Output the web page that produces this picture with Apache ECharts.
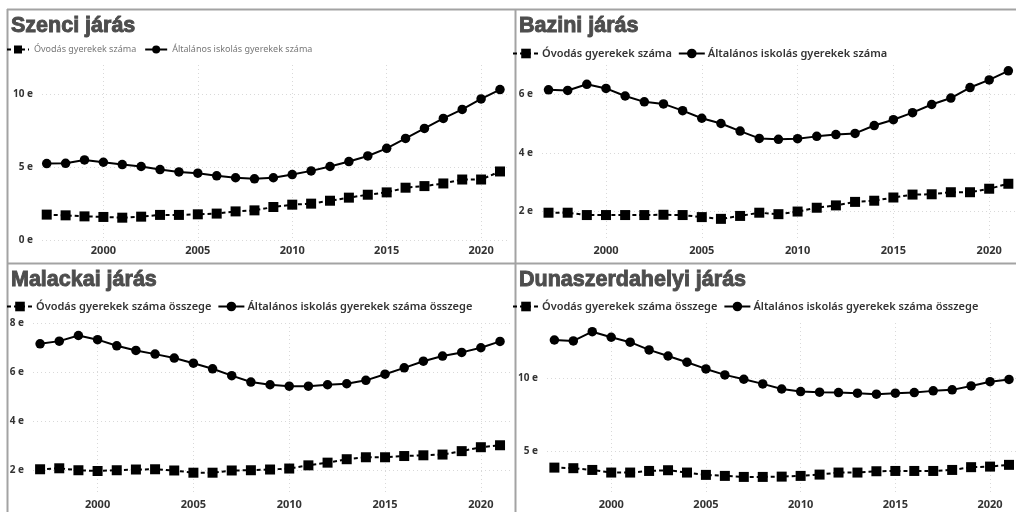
<!DOCTYPE html>
<html>
<head>
<meta charset="utf-8">
<script src="https://cdn.jsdelivr.net/npm/echarts@6/dist/echarts.min.js"></script>
<style>
  html, body { margin: 0; padding: 0; background: #fff; }
  #main { width: 1016px; height: 512px; }
</style>
</head>
<body>
<div id="main"></div>
<script>
  var years = [1997, 1998, 1999, 2000, 2001, 2002, 2003, 2004, 2005, 2006, 2007, 2008, 2009,
               2010, 2011, 2012, 2013, 2014, 2015, 2016, 2017, 2018, 2019, 2020, 2021];

  // ezer fő (e = ezer)
  var szenciOvoda = [1.77, 1.72, 1.65, 1.61, 1.56, 1.63, 1.75, 1.75, 1.79, 1.84, 1.99, 2.06, 2.29,
                     2.45, 2.52, 2.72, 2.93, 3.13, 3.29, 3.61, 3.72, 3.90, 4.17, 4.17, 4.72];
  var szenciIskola = [5.26, 5.28, 5.51, 5.35, 5.19, 5.06, 4.85, 4.69, 4.60, 4.42, 4.29, 4.22, 4.29,
                      4.51, 4.76, 5.06, 5.40, 5.78, 6.30, 6.98, 7.66, 8.35, 8.96, 9.68, 10.32];

  var baziniOvoda = [1.95, 1.95, 1.87, 1.87, 1.87, 1.87, 1.88, 1.87, 1.80, 1.74, 1.84, 1.95, 1.90,
                     1.99, 2.12, 2.20, 2.32, 2.36, 2.47, 2.57, 2.58, 2.65, 2.65, 2.77, 2.94];
  var baziniIskola = [6.15, 6.13, 6.34, 6.20, 5.94, 5.74, 5.67, 5.44, 5.18, 5.00, 4.74, 4.49, 4.46,
                      4.48, 4.56, 4.62, 4.66, 4.93, 5.13, 5.37, 5.65, 5.87, 6.23, 6.49, 6.80];

  var malackaiOvoda = [2.03, 2.07, 1.99, 1.96, 1.99, 2.02, 2.03, 1.98, 1.89, 1.89, 1.98, 1.99, 2.02,
                       2.06, 2.19, 2.30, 2.44, 2.52, 2.52, 2.57, 2.60, 2.63, 2.77, 2.93, 3.01];
  var malackaiIskola = [7.15, 7.26, 7.49, 7.32, 7.07, 6.88, 6.73, 6.57, 6.36, 6.13, 5.85, 5.59, 5.48,
                        5.42, 5.42, 5.48, 5.52, 5.66, 5.91, 6.17, 6.44, 6.65, 6.80, 6.99, 7.25];

  var dunaOvoda = [3.85, 3.81, 3.69, 3.51, 3.51, 3.62, 3.67, 3.51, 3.35, 3.28, 3.21, 3.21, 3.23,
                   3.28, 3.37, 3.51, 3.51, 3.60, 3.62, 3.62, 3.62, 3.69, 3.88, 3.92, 4.04];
  var dunaIskola = [12.63, 12.57, 13.20, 12.82, 12.48, 11.95, 11.53, 11.10, 10.64, 10.23, 9.93, 9.61, 9.26,
                    9.08, 9.04, 9.01, 8.97, 8.90, 8.97, 9.01, 9.13, 9.20, 9.47, 9.76, 9.92];

  var panelTitles = ['Szenci járás', 'Bazini járás', 'Malackai járás', 'Dunaszerdahelyi járás'];
  var ovodaNames = ['Óvodás gyerekek száma', 'Óvodás gyerekek száma',
                    'Óvodás gyerekek száma összege', 'Óvodás gyerekek száma összege'];
  var iskolaNames = ['Általános iskolás gyerekek száma', 'Általános iskolás gyerekek száma',
                     'Általános iskolás gyerekek száma összege', 'Általános iskolás gyerekek száma összege'];

  var panels = [
    { ovoda: szenciOvoda, iskola: szenciIskola, grid: { left: 42, right: 506, top: 65, height: 175.5 },
      x: [1996.75, 2021.53], y: { min: 0, max: 12, interval: 5 }, legend: { left: 6, top: 45 }, title: { left: 11, top: 15 } },
    { ovoda: baziniOvoda, iskola: baziniIskola, grid: { left: 542, right: 0, top: 65, height: 175.5 },
      x: [1996.66, 2021.4], y: { min: 1, max: 7, splitNumber: 3 }, legend: { left: 512, top: 48 }, title: { left: 519, top: 15 } },
    { ovoda: malackaiOvoda, iskola: malackaiIskola, grid: { left: 33, right: 506, top: 323, height: 171.5 },
      x: [1996.63, 2021.52], y: { min: 1, max: 8, splitNumber: 3 }, legend: { left: 6, top: 301 }, title: { left: 11, top: 269 } },
    { ovoda: dunaOvoda, iskola: dunaIskola, grid: { left: 547, right: 0, top: 323, height: 171.5 },
      x: [1996.61, 2021.37], y: { min: 2, max: 13.8, splitNumber: 2 }, legend: { left: 512, top: 301 }, title: { left: 519, top: 269 } }
  ];

  function pairs(vals) {
    return years.map(function (y, i) { return [y, vals[i]]; });
  }

  var font = 'Noto Sans, sans-serif';
  var dotted = { color: '#d9d9d9', type: [1, 3], width: 1 };

  var option = {
    animation: false,
    backgroundColor: '#fff',
    title: [], legend: [], grid: [], xAxis: [], yAxis: [], series: [],
    graphic: [
      { type: 'line', shape: { x1: 7, y1: 9.5, x2: 1016, y2: 9.5 }, style: { stroke: '#a3a3a3', lineWidth: 2 } },
      { type: 'line', shape: { x1: 7.5, y1: 9, x2: 7.5, y2: 512 }, style: { stroke: '#a3a3a3', lineWidth: 2 } },
      { type: 'line', shape: { x1: 515.5, y1: 9, x2: 515.5, y2: 512 }, style: { stroke: '#a3a3a3', lineWidth: 2 } },
      { type: 'line', shape: { x1: 7, y1: 263.5, x2: 1016, y2: 263.5 }, style: { stroke: '#a3a3a3', lineWidth: 2 } }
    ]
  };

  panels.forEach(function (p, i) {
    option.title.push({
      text: panelTitles[i], left: p.title.left, top: p.title.top, padding: 0,
      textStyle: { fontFamily: 'Liberation Sans, Arial, sans-serif', fontSize: 21.5, fontWeight: 'bold',
                   color: '#4d4d4d', textBorderColor: '#4d4d4d', textBorderWidth: 0.9 }
    });
    var small = i === 0;
    option.legend.push({
      left: p.legend.left, top: p.legend.top, padding: 0,
      itemWidth: small ? 22 : 26, itemHeight: small ? 10 : 12, itemGap: small ? 8 : 6,
      data: [ovodaNames[i], iskolaNames[i]],
      textStyle: small ? { fontFamily: font, fontSize: 9, color: '#777' }
                       : { fontFamily: font, fontSize: 11, fontWeight: 600, color: '#333', padding: [0, 0, 0, -2] }
    });
    option.grid.push(p.grid);
    option.xAxis.push({
      type: 'value', gridIndex: i, min: p.x[0], max: p.x[1], splitNumber: 5,
      axisLine: { show: false }, axisTick: { show: false },
      axisLabel: { showMinLabel: false, showMaxLabel: false, margin: 5,
                   fontFamily: font, fontSize: 11, fontWeight: 'bold', color: '#333',
                   formatter: function (v) { return String(v); } },
      splitLine: { show: true, showMinLine: false, showMaxLine: false, lineStyle: dotted }
    });
    var y = {
      type: 'value', gridIndex: i, min: p.y.min, max: p.y.max,
      axisLine: { show: false }, axisTick: { show: false },
      axisLabel: { margin: 9, fontFamily: font, fontSize: 10, fontWeight: 'bold', color: '#333',
                   showMinLabel: p.y.min === 0, showMaxLabel: i === 2,
                   formatter: function (v) { return v + ' e'; } },
      splitLine: { show: true, showMinLine: p.y.min === 0, showMaxLine: i === 2, lineStyle: dotted }
    };
    if (p.y.interval) y.interval = p.y.interval;
    if (p.y.splitNumber) y.splitNumber = p.y.splitNumber;
    option.yAxis.push(y);

    option.series.push({
      name: ovodaNames[i], type: 'line', xAxisIndex: i, yAxisIndex: i,
      data: pairs(p.ovoda), symbol: 'rect', symbolSize: 10,
      itemStyle: { color: '#000' }, lineStyle: { color: '#000', width: 2, type: [4, 3] }
    });
    option.series.push({
      name: iskolaNames[i], type: 'line', xAxisIndex: i, yAxisIndex: i,
      data: pairs(p.iskola), symbol: 'circle', symbolSize: 9.5,
      itemStyle: { color: '#000' }, lineStyle: { color: '#000', width: 2 }
    });
  });

  var myChart = echarts.init(document.getElementById('main'));
  myChart.setOption(option);
</script>
</body>
</html>
